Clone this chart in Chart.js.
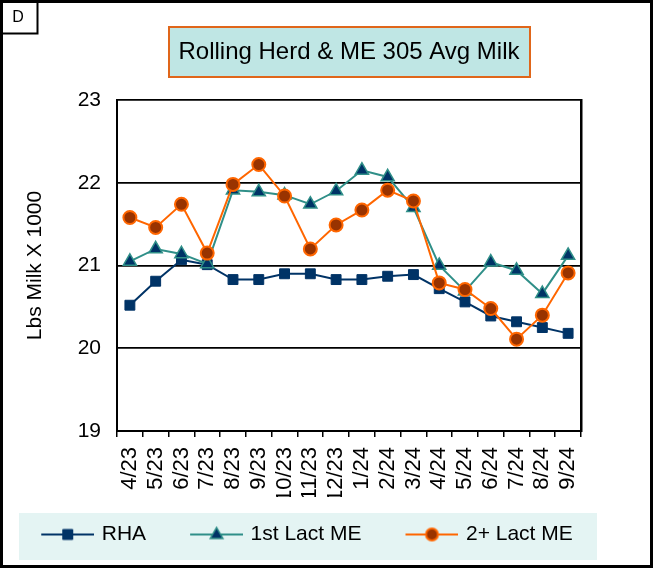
<!DOCTYPE html>
<html>
<head>
<meta charset="utf-8">
<script src="https://cdn.jsdelivr.net/npm/chart.js@4.4.1/dist/chart.umd.min.js"></script>
<style>
  body { margin: 0; background: #fff; }
  canvas { display: block; }
</style>
</head>
<body>
<canvas id="milk-chart" width="656" height="569"></canvas>
<script>
// values
var months = ["4/23", "5/23", "6/23", "7/23", "8/23", "9/23", "10/23", "11/23", "12/23",
              "1/24", "2/24", "3/24", "4/24", "5/24", "6/24", "7/24", "8/24", "9/24"];
var rhaValues = [20.52, 20.81, 21.07, 21.01, 20.83, 20.83, 20.90, 20.90, 20.83,
                 20.83, 20.87, 20.89, 20.72, 20.56, 20.39, 20.32, 20.25, 20.18];
var firstLactValues = [21.05, 21.20, 21.14, 21.02, 21.91, 21.89, 21.85, 21.74, 21.90,
                       22.15, 22.07, 21.70, 21.00, 20.69, 21.04, 20.94, 20.66, 21.12];
var secondLactValues = [21.58, 21.46, 21.74, 21.15, 21.98, 22.22, 21.84, 21.20, 21.49,
                        21.67, 21.91, 21.78, 20.79, 20.71, 20.48, 20.11, 20.40, 20.91];
var yTicks = [19, 20, 21, 22, 23];
var seriesNames = ["RHA", "1st Lact ME", "2+ Lact ME"];
var chartTitle = "Rolling Herd & ME 305 Avg Milk";
var axisTitle = "Lbs Milk X 1000";
var panelLetter = "D";

var NAVY = "#003366";
var TEAL = "#2f8f88";
var ORANGE = "#ff6600";
var BROWN = "#993300";
var FONT = '"Liberation Sans", Arial, sans-serif';

Chart.defaults.font.family = FONT;
Chart.defaults.color = "#000";

// legend picture: 53px line with the marker, drawn at the right end of a
// wider transparent strip so the legend items get their wide spacing
function legendSymbol(lineColor, style, fill, border, borderWidth) {
  var c = document.createElement("canvas");
  c.width = 73;
  c.height = 18;
  var g = c.getContext("2d");
  var x0 = 20, cx = 20 + 26.5, cy = 9;
  g.strokeStyle = lineColor;
  g.lineWidth = 2;
  g.beginPath();
  g.moveTo(x0, cy);
  g.lineTo(x0 + 53, cy);
  g.stroke();
  g.fillStyle = fill;
  g.strokeStyle = border;
  g.lineWidth = borderWidth;
  g.beginPath();
  if (style == "rect") {
    g.rect(cx - 5, cy - 5, 10, 10);
  } else if (style == "triangle") {
    g.moveTo(cx, cy - 7);
    g.lineTo(cx + 6.3, cy + 4);
    g.lineTo(cx - 6.3, cy + 4);
    g.closePath();
  } else {
    g.arc(cx, cy, 6, 0, Math.PI * 2);
  }
  g.fill();
  g.stroke();
  return c;
}

var legendPics = [
  legendSymbol(NAVY, "rect", NAVY, NAVY, 1),
  legendSymbol(TEAL, "triangle", NAVY, TEAL, 1.5),
  legendSymbol(ORANGE, "circle", BROWN, ORANGE, 2)
];

var framePlugin = {
  id: "frame",
  beforeDraw: function(chart) {
    var ctx = chart.ctx;
    ctx.save();
    ctx.fillStyle = "#fff";
    ctx.fillRect(0, 0, chart.width, chart.height);
    // legend band
    ctx.fillStyle = "#e4f4f3";
    ctx.fillRect(19, 513, 578, 47);
    // title box
    ctx.fillStyle = "#bfe6e4";
    ctx.fillRect(169, 27, 361, 50);
    ctx.strokeStyle = "#e0661a";
    ctx.lineWidth = 2;
    ctx.strokeRect(169, 27, 361, 50);
    ctx.restore();
  },
  afterDraw: function(chart) {
    var ctx = chart.ctx;
    ctx.save();
    ctx.strokeStyle = "#000";
    ctx.lineWidth = 3;
    ctx.strokeRect(1.5, 1.5, 650, 565);
    ctx.lineWidth = 2;
    ctx.strokeRect(1.5, 1.5, 36, 32);
    ctx.fillStyle = "#000";
    ctx.font = "16px " + FONT;
    ctx.textAlign = "center";
    ctx.textBaseline = "middle";
    ctx.fillText(panelLetter, 18, 18);
    ctx.restore();
  }
};

var ctx = document.getElementById("milk-chart").getContext("2d");
var chart = new Chart(ctx, {
  type: "line",
  data: {
    labels: months,
    datasets: [{
      label: seriesNames[0],
      data: rhaValues,
      borderColor: NAVY,
      backgroundColor: NAVY,
      borderWidth: 2,
      pointStyle: "rect",
      pointRadius: 7,
      pointBackgroundColor: NAVY,
      pointBorderColor: NAVY,
      pointBorderWidth: 1,
      order: 3
    },
    {
      label: seriesNames[1],
      data: firstLactValues,
      borderColor: TEAL,
      backgroundColor: NAVY,
      borderWidth: 2,
      pointStyle: "triangle",
      pointRadius: 7.6,
      pointBackgroundColor: NAVY,
      pointBorderColor: TEAL,
      pointBorderWidth: 1.5,
      order: 2
    },
    {
      label: seriesNames[2],
      data: secondLactValues,
      borderColor: ORANGE,
      backgroundColor: BROWN,
      borderWidth: 2,
      pointStyle: "circle",
      pointRadius: 6.5,
      pointBackgroundColor: BROWN,
      pointBorderColor: ORANGE,
      pointBorderWidth: 2,
      order: 1
    }]
  },
  options: {
    responsive: false,
    animation: false,
    layout: { padding: { left: -9, right: 50, top: 0, bottom: 14 } },
    elements: { line: { tension: 0 } },
    plugins: {
      tooltip: { enabled: false },
      title: {
        display: true,
        text: chartTitle,
        fullSize: false,
        color: "#000",
        font: { size: 24, weight: "normal" },
        padding: { top: 37.6, bottom: 33.6 }
      },
      legend: {
        position: "bottom",
        labels: {
          usePointStyle: true,
          pointStyleWidth: 67,
          padding: 27,
          color: "#000",
          font: { size: 21 },
          generateLabels: function(chart) {
            return chart.data.datasets.map(function(ds, i) {
              return {
                text: ds.label,
                pointStyle: legendPics[i],
                fillStyle: ds.backgroundColor,
                strokeStyle: ds.borderColor,
                lineWidth: 0,
                hidden: false,
                datasetIndex: i
              };
            });
          }
        }
      }
    },
    scales: {
      x: {
        offset: true,
        afterFit: function(scale) { scale.height = 66; },
        grid: {
          offset: true,
          drawOnChartArea: false,
          drawTicks: true,
          tickLength: 6,
          color: "#000",
          lineWidth: 1.5
        },
        border: { color: "#000", width: 2 },
        ticks: {
          autoSkip: false,
          minRotation: 90,
          maxRotation: 90,
          padding: 10,
          color: "#000",
          font: { size: 22 }
        }
      },
      y: {
        min: yTicks[0],
        max: yTicks[yTicks.length - 1],
        afterFit: function(scale) { scale.width = 126; },
        grid: { color: "#000", lineWidth: 1.8, drawTicks: false },
        border: { color: "#000", width: 2 },
        ticks: {
          stepSize: 1,
          padding: 16,
          color: "#000",
          font: { size: 21 }
        },
        title: {
          display: true,
          text: axisTitle,
          color: "#000",
          font: { size: 21 },
          padding: { top: 31.4, bottom: 0 }
        }
      },
      y2: {
        position: "right",
        min: yTicks[0],
        max: yTicks[yTicks.length - 1],
        afterFit: function(scale) { scale.width = 25; },
        grid: { display: false, drawTicks: false },
        border: { color: "#000", width: 2.5 },
        ticks: { display: false }
      }
    }
  },
  plugins: [framePlugin]
});
</script>
</body>
</html>
